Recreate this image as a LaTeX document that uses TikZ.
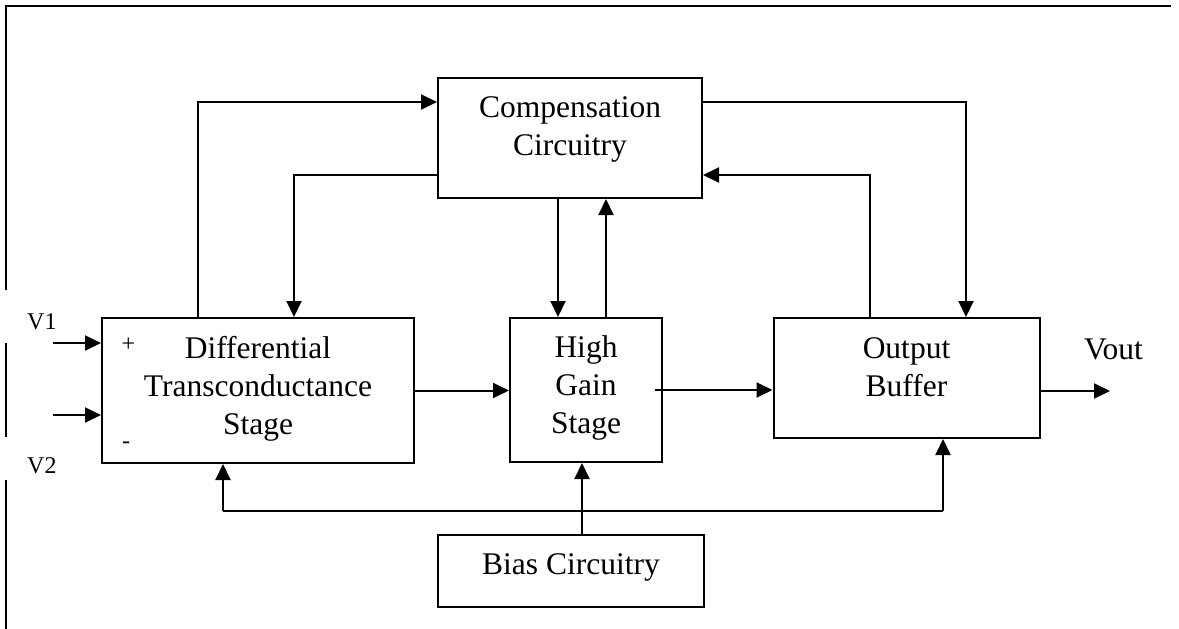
\documentclass[tikz,border=0pt]{standalone}
\usepackage{fontspec}
\setmainfont{Liberation Serif}
\usetikzlibrary{arrows.meta, calc}

\tikzset{
  blk/.style={draw, line width=2pt, align=center, inner sep=0pt,
    font=\fontsize{31.5}{38}\selectfont},
  arr/.style={-{Triangle[length=16pt, width=15pt]}, line width=2pt},
  wire/.style={line width=2pt},
  lbl/.style={font=\fontsize{24}{28}\selectfont, inner sep=0pt},
}

\begin{document}
\begin{tikzpicture}[x=1pt, y=-1pt]
\useasboundingbox (0,0) rectangle (1179,629);
% --- Frame ---
\draw[wire] (1171,6) -- (6,6) -- (6,290);
\draw[wire] (6,343) -- (6,437);
\draw[wire] (6,480) -- (6,629);
% --- Blocks ---
\node[blk, minimum width=264, minimum height=120, text depth=23pt] (comp) at (570,138) {Compensation\\Circuitry};
\node[blk, minimum width=312, minimum height=145, text depth=11pt] (diff) at (258,390.5) {Differential\\Transconductance\\Stage};
\node[blk, minimum width=152, minimum height=144, text depth=11pt] (hg) at (586,390) {High\\Gain\\Stage};
\node[blk, minimum width=266, minimum height=120, text depth=21pt] (ob) at (906.5,378) {Output\\Buffer};
\node[blk, minimum width=266, minimum height=72, text depth=13pt] (bias) at (571,571) {Bias Circuitry};
% --- Inputs and output ---
\node[lbl, anchor=base west] (v1) at (27,329) {V1};
\node[lbl, anchor=base west] (v2) at (27,473) {V2};
\node[lbl] (plus) at (128.5,345) {+};
\node[lbl, anchor=base] (minus) at (126,448) {-};
\foreach \y/\n in {343/a, 415/b} {
  \coordinate (in\n) at (53,\y);
  \draw[arr] (in\n) -- (in\n -| diff.west);
}
\coordinate (vout) at (1110,391);
\draw[arr] (vout -| ob.east) -- (vout);
\node[blk, draw=none, anchor=base west] (voutlbl) at (1083,359) {Vout};
% --- Forward path ---
\draw[arr] (diff.east) -- (diff.east -| hg.west);
\draw[arr] ([xshift=-8pt]hg.east) -- (hg.east -| ob.west);
% --- Compensation loops ---
\draw[arr] ([xshift=-60pt]diff.north) |- ([yshift=36pt]comp.west);
\draw[arr] ([yshift=-37pt]comp.west) -| ([xshift=36pt]diff.north);
\draw[arr] ([xshift=-28pt]hg.north |- comp.south) -- ([xshift=-28pt]hg.north);
\draw[arr] ([xshift=20pt]hg.north) -- ([xshift=20pt]hg.north |- comp.south);
\draw[arr] ([yshift=36pt]comp.east) -| ([xshift=59.5pt]ob.north);
\draw[arr] ([xshift=-36.5pt]ob.north) |- ([yshift=-37pt]comp.east);
% --- Bias distribution ---
\coordinate (bl) at (223,511);
\coordinate (br) at (943,511);
\draw[arr] ([xshift=11pt]bias.north) -- ([xshift=11pt]bias.north |- hg.south);
\draw[wire] (bl) -- (br);
\draw[arr] (bl) -- (bl |- diff.south);
\draw[arr] (br) -- (br |- ob.south);
\end{tikzpicture}
\end{document}
